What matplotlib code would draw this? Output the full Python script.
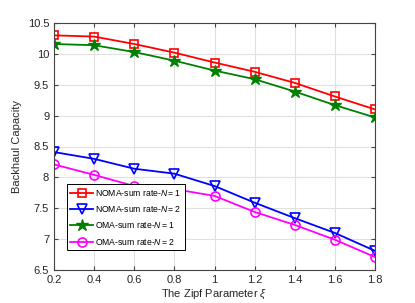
import matplotlib
matplotlib.use("Agg")
import matplotlib.pyplot as plt

plt.rcParams['font.family'] = ['Liberation Sans', 'DejaVu Sans']
plt.rcParams['mathtext.fontset'] = 'custom'
plt.rcParams['mathtext.it'] = 'Liberation Sans:italic'
plt.rcParams['mathtext.rm'] = 'Liberation Sans'

xi = [0.2, 0.4, 0.6, 0.8, 1.0, 1.2, 1.4, 1.6, 1.8]
noma_n1 = [10.30, 10.28, 10.16, 10.02, 9.86, 9.71, 9.53, 9.31, 9.10]
noma_n2 = [8.41, 8.30, 8.14, 8.06, 7.86, 7.59, 7.34, 7.10, 6.81]
oma_n1 = [10.16, 10.14, 10.03, 9.89, 9.73, 9.59, 9.39, 9.17, 8.97]
oma_n2 = [8.21, 8.04, 7.86, 7.81, 7.70, 7.44, 7.23, 6.99, 6.71]
labels = ['NOMA-sum rate-$\\mathit{N{=}1}$', 'NOMA-sum rate-$\\mathit{N{=}2}$',
          'OMA-sum rate-$\\mathit{N{=}1}$', 'OMA-sum rate-$\\mathit{N{=}2}$']

fig = plt.figure(figsize=(4.15, 3.03), dpi=100)
ax = fig.add_axes([54/415, 1 - 270/303, (375-54)/415, (270-23)/303])

ax.plot(xi, noma_n1, color='red', marker='s', ms=6, mfc='none', mew=1.2, lw=1.3, label=labels[0])
ax.plot(xi, noma_n2, color='blue', marker='v', ms=7, mfc='none', mew=1.2, lw=1.3, label=labels[1])
ax.plot(xi, oma_n1, color='green', marker='*', ms=9, mfc='green', mew=1, lw=1.3, label=labels[2])
ax.plot(xi, oma_n2, color='magenta', marker='o', ms=6.5, mfc='none', mew=1.2, lw=1.3, label=labels[3])

ax.set_xlim(0.2, 1.8)
ax.set_ylim(6.5, 10.5)
ax.set_xticks(xi)
ax.set_xticklabels(['0.2', '0.4', '0.6', '0.8', '1', '1.2', '1.4', '1.6', '1.8'])
ax.set_yticks([6.5, 7, 7.5, 8, 8.5, 9, 9.5, 10, 10.5])
ax.set_yticklabels(['6.5', '7', '7.5', '8', '8.5', '9', '9.5', '10', '10.5'])
ax.grid(True, color='#e0e0e0', lw=0.8)
ax.set_axisbelow(True)
ax.tick_params(direction='in', top=True, right=True, labelsize=8, length=3, color='#444444', labelcolor='#262626')
for s in ax.spines.values():
    s.set_color('#444444')
    s.set_linewidth(0.8)

ax.set_xlabel('The Zipf Parameter $\\xi$', fontsize=8, color='#262626', labelpad=2)
ax.set_ylabel('Backhaul Capacity', fontsize=8, color='#262626', labelpad=6)
ax.yaxis.set_label_coords(-(54-22)/321, 0.5)

leg = ax.legend(loc='lower left', bbox_to_anchor=((67-54)/321, (270-250)/247), fontsize=6.2,
                frameon=True, fancybox=False, edgecolor='black', framealpha=1,
                borderpad=0.4, labelspacing=0.6, handlelength=2.6, handletextpad=0.3, borderaxespad=0)
leg.get_frame().set_linewidth(0.7)

fig.savefig('out.png', dpi=100)
